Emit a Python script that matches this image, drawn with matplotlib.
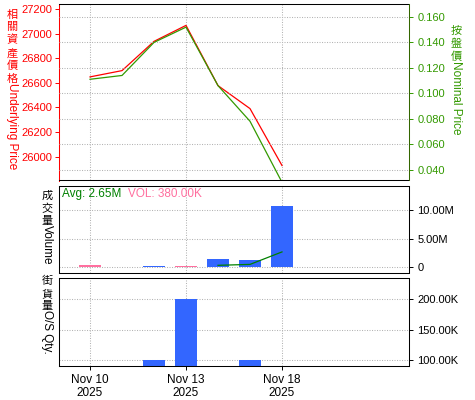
import numpy as np
import matplotlib
matplotlib.use('Agg')
import matplotlib.pyplot as plt
from matplotlib.ticker import FuncFormatter, FixedLocator

# trading days shown on the chart
dates = ['Nov 10', 'Nov 11', 'Nov 12', 'Nov 13', 'Nov 14', 'Nov 17', 'Nov 18']
year = '2025'
tick_days = ['Nov 10', 'Nov 13', 'Nov 18']

underlying = [26648, 26699, 26937, 27067, 26577, 26390, 25927]
nominal = [0.111, 0.114, 0.140, 0.152, 0.106, 0.078, 0.030]

volume_m = [0.35, 0.0, 0.15, 0.10, 1.40, 1.20, 10.75]
volume_colors = ['#ff6f9f', '#3366ff', '#3366ff', '#ff6f9f', '#3366ff', '#3366ff', '#3366ff']
avg_volume_m = [np.nan, np.nan, np.nan, np.nan, 0.30, 0.46, 2.65]

os_qty_k = [0, 0, 100, 200, 0, 100, 0]

avg_text = 'Avg: 2.65M'
vol_text = 'VOL: 380.00K'

W, H = 475, 400
RED = '#ff0000'
GREEN = '#339900'
BLUE = '#3366ff'
GRID = '#b4b4b4'
DOT = (0, (1, 1))
GDOT = (0, (1, 1.4))
FONT = ['Liberation Sans', 'Noto Sans CJK TC']
CJK = 'Noto Sans CJK TC'

plt.rcParams['font.family'] = FONT
plt.rcParams['font.size'] = 8

x = np.arange(len(dates))
xticks = [dates.index(d) for d in tick_days]

fig = plt.figure(figsize=(W / 100, H / 100), dpi=100)


def box(top, bottom):
    return [59 / W, 1 - bottom / H, 350 / W, (bottom - top) / H]


def style_grid(ax):
    ax.grid(True, color=GRID, linestyle=GDOT, linewidth=0.75)
    ax.set_axisbelow(True)


def set_spine(ax, side, color='black', ls='-'):
    ax.spines[side].set_color(color)
    ax.spines[side].set_linestyle(ls)
    ax.spines[side].set_linewidth(0.75)


# ---- price panel ----
ax1 = fig.add_axes(box(4, 180.5))
ax2 = ax1.twinx()
ax1.plot(x, underlying, color=RED, lw=0.9, zorder=3)
ax2.plot(x, nominal, color=GREEN, lw=0.9, zorder=3)
ax1.set_xlim(-0.97, 9.97)
ax1.set_ylim(25805, 27241)
ax2.set_ylim(0.0314, 0.1702)
ax1.yaxis.set_major_locator(FixedLocator(np.arange(25800, 27201, 200)))
ax2.yaxis.set_major_locator(FixedLocator(np.arange(0.04, 0.161, 0.02)))
ax2.yaxis.set_major_formatter(FuncFormatter(lambda v, p: f'{v:.3f}'))
ax1.tick_params(axis='y', colors=RED, labelsize=8, length=3, width=0.7, pad=2)
ax2.tick_params(axis='y', colors=GREEN, labelsize=8, length=3, width=0.7, pad=3)
ax1.xaxis.set_major_locator(FixedLocator(xticks))
ax1.tick_params(axis='x', length=0, labelbottom=False)
ax1.xaxis.grid(True, color=GRID, linestyle=GDOT, linewidth=0.75)
ax2.yaxis.grid(True, color=GRID, linestyle=GDOT, linewidth=0.75)
ax1.set_axisbelow(True)
ax2.set_axisbelow(True)
set_spine(ax1, 'left', RED)
set_spine(ax1, 'top', 'black', DOT)
set_spine(ax1, 'bottom', 'black', DOT)
ax1.spines['right'].set_visible(False)
for s in ['left', 'top', 'bottom']:
    ax2.spines[s].set_visible(False)
set_spine(ax2, 'right', '#336600', DOT)

# ---- volume panel ----
ax3 = fig.add_axes(box(185.7, 273.3))
ax3.bar(x, volume_m, width=0.68, color=volume_colors, zorder=2)
ax3.plot(x, avg_volume_m, color='#008000', lw=0.9, zorder=3)
ax3.set_xlim(-0.97, 9.97)
ax3.set_ylim(-1.1, 14.26)
ax3.yaxis.set_major_locator(FixedLocator([0, 5, 10]))
ax3.yaxis.set_major_formatter(FuncFormatter(lambda v, p: '0' if v == 0 else f'{v:.2f}M'))
ax3.yaxis.tick_right()
ax3.tick_params(axis='y', labelsize=8, length=3, width=0.7, pad=3)
ax3.xaxis.set_major_locator(FixedLocator(xticks))
ax3.tick_params(axis='x', length=0, labelbottom=False)
style_grid(ax3)
set_spine(ax3, 'left', 'black', DOT)
set_spine(ax3, 'top', 'black', DOT)
set_spine(ax3, 'bottom', 'black', DOT)
set_spine(ax3, 'right')
t1 = ax3.annotate(avg_text, xy=(0, 1), xycoords='axes fraction', xytext=(2, -2),
                  textcoords='offset points', color='#008000', fontsize=8.5, va='top')
ax3.annotate(vol_text, xy=(1, 0), xycoords=t1, xytext=(5, 0),
             textcoords='offset points', color='#ff6f9f', fontsize=8.5, va='bottom')

# ---- outstanding quantity panel ----
ax4 = fig.add_axes(box(278.3, 366))
ax4.bar(x, os_qty_k, width=0.68, color=BLUE, zorder=2)
ax4.set_xlim(-0.97, 9.97)
ax4.set_ylim(90.1, 234.7)
ax4.yaxis.set_major_locator(FixedLocator([100, 150, 200]))
ax4.yaxis.set_major_formatter(FuncFormatter(lambda v, p: f'{v:.2f}K'))
ax4.yaxis.tick_right()
ax4.tick_params(axis='y', labelsize=8, length=3, width=0.7, pad=3)
ax4.xaxis.set_major_locator(FixedLocator(xticks))
ax4.set_xticklabels([f'{d}\n{year}' for d in tick_days], linespacing=1.05)
ax4.tick_params(axis='x', labelsize=8.5, length=3, width=0.7, pad=3)
style_grid(ax4)
set_spine(ax4, 'left', 'black', DOT)
set_spine(ax4, 'top', 'black', DOT)
set_spine(ax4, 'bottom')
set_spine(ax4, 'right')

renderer = fig.canvas.get_renderer()


def vlabel(px, top, cjk, latin, color, size=8.5):
    # CJK characters stacked upright, latin part turned to read downwards
    t = fig.text(px / W, 1 - top / H, '\n'.join(cjk), color=color, fontsize=8,
                 family=CJK, ha='center', va='top', linespacing=1.3)
    bb = t.get_window_extent(renderer)
    fig.text(px / W, (bb.y0 + 1) / H, latin, color=color, fontsize=size,
             rotation=270, ha='center', va='top')


vlabel(12, 10, '相關資產價格', 'Underlying Price', RED)
vlabel(456, 26, '按盤價', 'Nominal Price', GREEN)
vlabel(47, 191, '成交量', 'Volume', 'black')
vlabel(47, 276, '街貨量', 'O/S Qty.', 'black')

fig.savefig('out.png', dpi=100)
